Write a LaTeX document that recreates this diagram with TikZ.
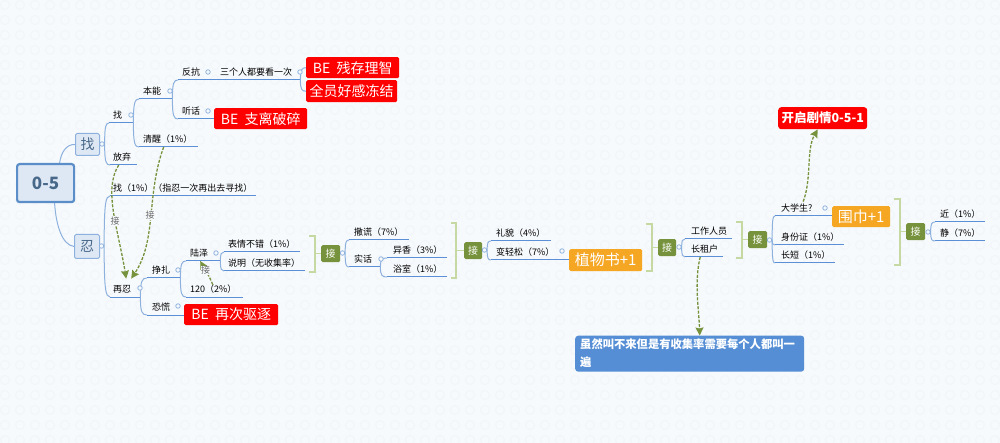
\documentclass[tikz,border=0pt]{standalone}
\usepackage{fontspec}
\setmainfont{Noto Sans CJK SC}
\usetikzlibrary{calc,arrows.meta}
\definecolor{bgc}{HTML}{F7FAFC}
\definecolor{bgt}{HTML}{F2F6FA}
\definecolor{linec}{HTML}{5B8FD6}
\definecolor{curvec}{HTML}{8DB1DE}
\definecolor{mainfill}{HTML}{DEE8F4}
\definecolor{mainedge}{HTML}{5B8EC9}
\definecolor{olive}{HTML}{76923C}
\definecolor{brk}{HTML}{C6D9A2}
\definecolor{orangec}{HTML}{F5A623}
\definecolor{notec}{HTML}{558ED5}
\definecolor{darkt}{HTML}{48688A}
\tikzset{
  topic/.style={inner xsep=0pt,inner ysep=2.5pt,anchor=south west,align=left,text height=8pt,text depth=2pt,font=\fontsize{9}{11}\selectfont,text=black},
  under/.style={draw=linec,line width=1pt},
  branch/.style={draw=curvec,line width=1pt},
  pt/.style={circle,draw=curvec,fill=bgc,line width=.8pt,minimum size=4.5pt,inner sep=0pt},
  tagbox/.style={rounded corners=1.5pt,text=white,inner sep=0pt,anchor=north west},
  redb/.style={tagbox,fill=red,font=\fontsize{14}{16}\selectfont},
  orb/.style={tagbox,fill=orangec,font=\fontsize{15}{17}\selectfont},
  jie/.style={tagbox,fill=olive,font=\fontsize{10}{12}\selectfont},
  sub/.style={tagbox,fill=mainfill,draw=curvec,line width=1pt,text=darkt,font=\fontsize{14}{16}\selectfont},
  rootb/.style={tagbox,fill=mainfill,draw=mainedge,line width=2.2pt,rounded corners=2.5pt,text=darkt,font=\fontsize{17}{19}\selectfont\bfseries},
  bracket/.style={draw=brk,line width=1.5pt},
  rel/.style={draw=olive,line width=1.3pt,dash pattern=on 3pt off 1.5pt,-{Stealth[length=8pt,width=8pt,inset=1pt]}},
  rellab/.style={text=black!60,inner sep=.5pt,fill=bgc,font=\fontsize{9}{11}\selectfont},
}
% name, line start x, text start x, line y, line end x, text
\newcommand{\topic}[6]{%
  \pgfmathsetmacro{\tw}{#5-#2}\pgfmathsetmacro{\tof}{#3-#2}%
  \node[topic,text width=\tw pt] (#1) at (#2,#4) {\hspace*{\tof pt}\mbox{#6}};
  \draw[under] (#1.south west) -- (#1.south east);}
\newcommand{\branch}[2]{%
  \draw[branch] (#1) .. controls ($(#1)!.85!(#1 |- #2)$) and ($(#2)!.75!(#1 |- #2)$) .. (#2);}
% name, x0,y0,x1,y1, style, text
\newcommand{\tag}[7]{%
  \pgfmathsetmacro{\bw}{#4-#2}\pgfmathsetmacro{\bh}{#5-#3}%
  \node[#6,minimum width=\bw pt,minimum height=\bh pt] (#1) at (#2,#3) {#7};}
% x0, x1, top, bottom, target box
\newcommand{\bracketto}[5]{%
  \draw[bracket] (#1,#3) -- (#2,#3) -- (#2,#4) -- (#1,#4);
  \draw[bracket] (#2,0 |- #5.west) -- (#5.west);}
\begin{document}
\begin{tikzpicture}[x=1pt,y=-1pt]
\path[fill=bgc] (0,0) rectangle (1000,443);
\useasboundingbox (0,0) rectangle (1000,443);
\draw[bgt,line width=1.2pt] foreach \i in {0,...,67} {foreach \j in {0,...,30} {(\i*15+5,\j*15+5) circle[radius=4.5pt]}};

% level boxes
\tag{root}{16}{163}{73}{201}{rootb}{0-5}
\tag{zhao}{75}{133}{99}{155}{sub}{找}
\tag{ren}{74}{234}{99}{258}{sub}{忍}
\draw[branch] ($(root.north)+(14,0)$) .. controls (61,153) and (66,144) .. (zhao.west);
\draw[branch] ($(root.south)+(9,0)$) .. controls (56,225) and (62,245) .. (ren.west);
\node[pt] (dzhao) at (102,144) {};
\node[pt] (dren) at (101.5,246) {};

% upper branch
\topic{tzhao}{109}{113}{123}{133}{找}
\topic{fangqi}{110}{113}{165}{137}{放弃}
\topic{benneng}{139}{143}{99}{172}{本能}
\topic{qingxing}{139}{143}{147}{198}{清醒（1\%）}
\topic{fankang}{178}{182}{80}{216}{反抗}
\topic{tingHua}{178}{182}{119}{216}{听话}
\topic{sange}{216}{220}{80}{300}{三个人都要看一次}
\branch{dzhao.east}{tzhao.south west}
\branch{dzhao.east}{fangqi.south west}
\branch{tzhao.south east}{benneng.south west}
\branch{tzhao.south east}{qingxing.south west}
\branch{benneng.south east}{fankang.south west}
\branch{benneng.south east}{tingHua.south west}
\tag{be1}{306}{57}{399}{78}{redb}{BE\ \ 残存理智}
\tag{be2}{306}{80}{397}{102}{redb}{全员好感冻结}
\tag{be3}{214}{108}{307}{129}{redb}{BE\ \ 支离破碎}
\branch{sange.south east}{be1.west}
\branch{sange.south east}{be2.west}
\node[pt] at (131,115) {};
\node[pt] at (170,91) {};
\node[pt] at (208,72) {};
\node[pt] at (208,111) {};
\node[pt] at (300,72) {};

% lower branch
\topic{zhao1}{110}{113}{196}{256}{找（1\%）（指忍一次再出去寻找）}
\topic{zairen}{110}{113}{297}{140}{再忍}
\branch{dren.east}{zhao1.south west}
\branch{dren.east}{zairen.south west}
\topic{zhengzha}{147}{152}{278}{180}{挣扎}
\topic{konghuang}{147}{152}{315}{185}{恐慌}
\branch{zairen.south east}{zhengzha.south west}
\branch{zairen.south east}{konghuang.south west}
\tag{be4}{184}{304}{278}{325}{redb}{BE\ \ 再次驱逐}
\topic{luze}{186}{190}{261}{220}{陆泽}
\topic{yao}{186}{190}{297}{243}{120（2\%）}
\branch{zhengzha.south east}{luze.south west}
\branch{zhengzha.south east}{yao.south west}
\topic{biaoqing}{224}{228}{252}{300}{表情不错（1\%）}
\topic{shuoming}{224}{228}{271}{305}{说明（无收集率）}
\branch{luze.south east}{biaoqing.south west}
\branch{luze.south east}{shuoming.south west}
\node[pt] at (140,288) {};
\node[pt] at (178,270) {};
\node[pt] at (178,306) {};
\node[pt] at (216,253) {};

% step 1
\tag{j1}{321}{245}{340}{262}{jie}{接}
\bracketto{309}{315}{236}{272}{j1}
\node[pt] (d1) at (342.5,253) {};
\topic{sahuang}{349}{354}{240}{409}{撒谎（7\%）}
\topic{shihua}{349}{354}{267}{380}{实话}
\branch{d1.east}{sahuang.south west}
\branch{d1.east}{shihua.south west}
\topic{yixiang}{387}{393}{258}{447}{异香（3\%）}
\topic{yushi}{387}{393}{277}{447}{浴室（1\%）}
\branch{shihua.south east}{yixiang.south west}
\branch{shihua.south east}{yushi.south west}
\node[pt] at (381,259) {};

% step 2
\tag{j2}{464}{242}{482}{259}{jie}{接}
\bracketto{451}{456}{223}{278}{j2}
\node[pt] (d2) at (484.5,250) {};
\topic{limao}{491}{496}{241}{551}{礼貌（4\%）}
\topic{bianqing}{491}{496}{260}{570}{变轻松（7\%）}
\branch{d2.east}{limao.south west}
\branch{d2.east}{bianqing.south west}
\tag{zhiwu}{569}{249}{642}{271}{orb}{植物书+1}
\node[pt] at (562,251) {};

% step 3
\tag{j3}{658}{239}{676}{256}{jie}{接}
\bracketto{646}{652}{224}{271}{j3}
\node[pt] (d3) at (679,247) {};
\topic{gongzuo}{685}{691}{239}{732}{工作人员}
\topic{zuhu}{685}{691}{257}{723}{长租户}
\branch{d3.east}{gongzuo.south west}
\branch{d3.east}{zuhu.south west}

% step 4
\tag{j4}{748}{231}{767}{248}{jie}{接}
\bracketto{736}{742}{222}{258}{j4}
\node[pt] (d4) at (769.5,240) {};
\topic{daxue}{775}{781}{216}{833}{大学生?}
\topic{shenfen}{775}{781}{245}{844}{身份证（1\%）}
\topic{changduan}{775}{781}{263}{835}{长短（1\%）}
\branch{d4.east}{daxue.south west}
\branch{d4.east}{shenfen.south west}
\branch{d4.east}{changduan.south west}
\tag{weijin}{832}{206}{890}{227}{orb}{围巾+1}
\node[pt] at (825,208) {};

% step 5
\tag{j5}{906}{223}{925}{240}{jie}{接}
\bracketto{894}{900}{199}{265}{j5}
\node[pt] (d5) at (928,232) {};
\topic{jin}{935}{940}{222}{985}{近（1\%）}
\topic{jing}{935}{940}{241}{985}{静（7\%）}
\branch{d5.east}{jin.south west}
\branch{d5.east}{jing.south west}

% callouts
\tag{kaiqi}{778}{107}{867}{129}{redb,rounded corners=3pt,font=\fontsize{12.5}{15}\selectfont\bfseries}{开启剧情0-5-1}
\node[tagbox,rounded corners=3pt,fill=notec,text width=219pt,inner xsep=5pt,inner ysep=3.5pt,align=left,font=\fontsize{11.3}{18}\selectfont\bfseries] (note) at (575,335.5) {虽然叫不来但是有收集率需要每个人都叫一\\遍};

% relationship arrows
\draw[rel] ($(fangqi.south)+(-5,0)$) .. controls (103,190) and (118,228) .. ($(zairen.north)+(1,-3)$) node[rellab] (l1) at (115,221) {接};
\draw[rel] ($(qingxing.south)+(-5,0)$) .. controls (146,195) and (157,240) .. ($(zairen.north)+(6,-3)$) node[rellab] (l2) at (150,215) {接};
\draw[rel] ($(yao.north)+(-2,3)$) .. controls (210,277) and (204,268) .. ($(luze.south)+(-3,0)$) node[rellab] (l3) at (205.5,270.5) {接};
\draw[rel] ($(daxue.north)+(-1,1)$) .. controls (812,178) and (806,150) .. ($(kaiqi.south)+(-5,0)$);
\draw[rel] ($(zuhu.south)+(-4,0)$) .. controls (694,282) and (699,310) .. ($(note.north)+(10,0)$);
\end{tikzpicture}
\end{document}
